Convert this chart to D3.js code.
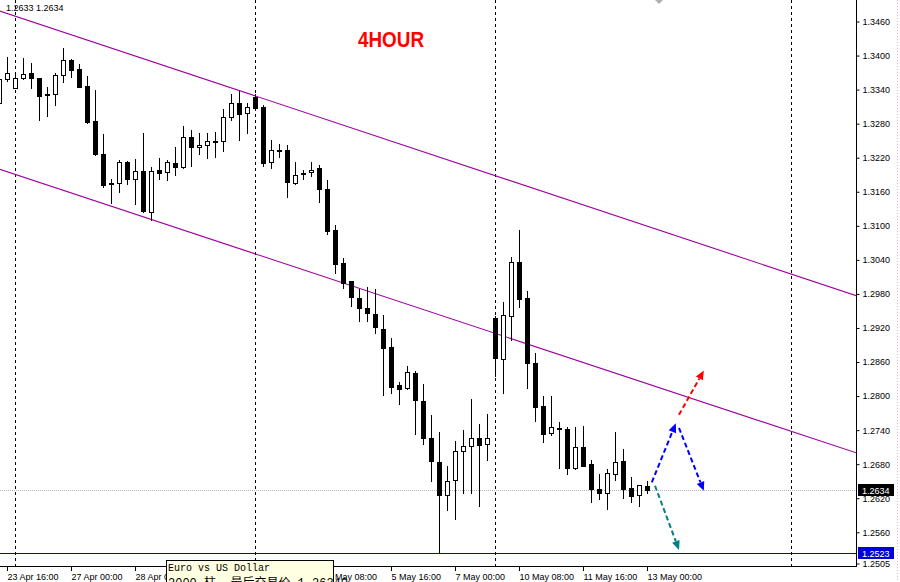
<!DOCTYPE html>
<html><head><meta charset="utf-8">
<script src="https://cdn.jsdelivr.net/npm/d3@7"></script>
<style>body{margin:0;background:#fff}svg{display:block}</style>
</head><body><svg id="c" width="900" height="582"></svg>
<script>
// ---------- data ----------
const firstBar = -1;
const opens  = [1.3316,1.3358,1.3343,1.3360,1.3369,1.3360,1.3333,1.3332,1.3366,1.3392,1.3376,1.3346,1.3284,1.3227,1.3173,1.3176,1.3212,1.3183,1.3196,1.3125,1.3198,1.3194,1.3210,1.3203,1.3257,1.3238,1.3242,1.3250,1.3250,1.3291,1.3317,1.3299,1.3327,1.3309,1.3213,1.3233,1.3233,1.3176,1.3192,1.3194,1.3201,1.3164,1.3093,1.3035,1.3002,1.2973,1.2956,1.2945,1.2919,1.2887,1.2819,1.2814,1.2841,1.2792,1.2726,1.2684,1.2626,1.2652,1.2704,1.2712,1.2727,1.2716,1.2938,1.2866,1.2941,1.3037,1.2972,1.2859,1.2783,1.2735,1.2744,1.2742,1.2673,1.2711,1.2680,1.2637,1.2630,1.2663,1.2686,1.2638,1.2626,1.2641];
const highs  = [1.3365,1.3398,1.3366,1.3395,1.3386,1.3361,1.3344,1.3369,1.3413,1.3394,1.3385,1.3364,1.3339,1.3261,1.3183,1.3216,1.3214,1.3217,1.3263,1.3204,1.3220,1.3216,1.3238,1.3276,1.3269,1.3263,1.3263,1.3265,1.3305,1.3332,1.3338,1.3316,1.3332,1.3312,1.3251,1.3245,1.3242,1.3212,1.3199,1.3213,1.3207,1.3180,1.3101,1.3044,1.3003,1.2989,1.2993,1.2989,1.2942,1.2903,1.2824,1.2853,1.2845,1.2822,1.2767,1.2737,1.2676,1.2720,1.2740,1.2795,1.2751,1.2769,1.2941,1.2965,1.3045,1.3092,1.2986,1.2876,1.2800,1.2800,1.2754,1.2746,1.2745,1.2748,1.2688,1.2662,1.2672,1.2736,1.2706,1.2657,1.2644,1.2650];
const lows   = [1.3310,1.3356,1.3342,1.3358,1.3343,1.3286,1.3293,1.3313,1.3354,1.3362,1.3344,1.3281,1.3224,1.3168,1.3140,1.3160,1.3173,1.3138,1.3124,1.3110,1.3183,1.3180,1.3190,1.3201,1.3205,1.3226,1.3220,1.3221,1.3232,1.3286,1.3251,1.3264,1.3304,1.3205,1.3202,1.3221,1.3151,1.3174,1.3182,1.3188,1.3142,1.3085,1.3017,1.2991,1.2959,1.2933,1.2932,1.2911,1.2802,1.2805,1.2786,1.2812,1.2733,1.2716,1.2650,1.2524,1.2600,1.2583,1.2630,1.2630,1.2606,1.2688,1.2836,1.2805,1.2898,1.2957,1.2815,1.2756,1.2719,1.2732,1.2674,1.2663,1.2672,1.2676,1.2613,1.2619,1.2601,1.2652,1.2621,1.2614,1.2607,1.2630];
const closes = [1.3359,1.3370,1.3360,1.3367,1.3360,1.3329,1.3331,1.3366,1.3392,1.3375,1.3345,1.3283,1.3226,1.3172,1.3176,1.3213,1.3183,1.3196,1.3126,1.3197,1.3193,1.3212,1.3204,1.3257,1.3238,1.3242,1.3249,1.3247,1.3291,1.3316,1.3297,1.3310,1.3307,1.3211,1.3233,1.3231,1.3177,1.3190,1.3193,1.3199,1.3164,1.3091,1.3033,1.2999,1.2974,1.2956,1.2946,1.2921,1.2884,1.2816,1.2812,1.2843,1.2793,1.2726,1.2685,1.2626,1.2650,1.2703,1.2712,1.2727,1.2714,1.2726,1.2867,1.2943,1.3037,1.2971,1.2859,1.2780,1.2733,1.2745,1.2742,1.2673,1.2710,1.2677,1.2636,1.2630,1.2665,1.2684,1.2637,1.2624,1.2643,1.2634];

const priceTicks = [1.3460,1.3400,1.3340,1.3280,1.3220,1.3160,1.3100,1.3040,1.2980,1.2920,1.2860,1.2800,1.2740,1.2680,1.2620,1.2560];
const bottomPrice = 1.2505;
const timeTickBars = [0,8,16,24,32,40,48,56,64,72,80];
// labels of bars 24 and 32 are covered by the tooltip in the reference
const timeTickLabels = ["23 Apr 16:00","27 Apr 00:00","28 Apr 08:00","","","4 May 08:00","5 May 16:00","7 May 00:00","10 May 08:00","11 May 16:00","13 May 00:00"];
const separatorBars = [1,31,61,98];
const channelUpperBars = [-1,107], channelUpperPrices = [1.3479,1.2973];
const channelLowerBars = [-1,107], channelLowerPrices = [1.3200,1.2696];
const lastPrice = 1.2634;
const supportLevel = 1.2523;
const headerText = "1.2633 1.2634";
const titleText = "4HOUR";
const arrowNames = ["blueUp","blueDown","redUp","tealDown"];
const arrowFromBar   = [80.6,84.0,84.0,81.0];
const arrowFromPrice = [1.2648,1.2744,1.2767,1.2642];
const arrowToBar     = [83.6,87.1,87.1,84.0];
const arrowToPrice   = [1.2752,1.2633,1.2845,1.2529];
const tooltipLines = ["Euro vs US Dollar","2000 柱, 最后交易价 1.26340"];

// ---------- drawing ----------
const svg = d3.select("#c");
const W = 900, H = 582, plotR = 856, plotB = 566;
const x = d3.scaleLinear().domain([0,80]).range([7,647]);
const y = d3.scaleLinear().domain([1.2505,1.3460]).range([563.5,21.5]);
const font = "'Liberation Sans', Arial, sans-serif";

svg.append("rect").attr("width",W).attr("height",H).attr("fill","#fff");
svg.append("defs").append("clipPath").attr("id","plot")
  .append("rect").attr("x",0).attr("y",0).attr("width",plotR).attr("height",plotB);
const g = svg.append("g").attr("clip-path","url(#plot)");

// week separators
g.selectAll("line.sep").data(separatorBars).join("line")
  .attr("x1",d=>Math.round(x(d))+0.5).attr("x2",d=>Math.round(x(d))+0.5)
  .attr("y1",0).attr("y2",plotB)
  .attr("stroke","#000").attr("stroke-width",1).attr("stroke-dasharray","3,3");

// last price dotted line
g.append("line").attr("x1",0).attr("x2",plotR)
  .attr("y1",Math.round(y(lastPrice))+0.5).attr("y2",Math.round(y(lastPrice))+0.5)
  .attr("stroke","#bcaebc").attr("stroke-width",1).attr("stroke-dasharray","1,1");

// support line
g.append("line").attr("x1",0).attr("x2",plotR)
  .attr("y1",Math.round(y(supportLevel))+0.5).attr("y2",Math.round(y(supportLevel))+0.5)
  .attr("stroke","#0000d8").attr("stroke-width",1.2);

// channel
const chan = [[channelUpperBars,channelUpperPrices],[channelLowerBars,channelLowerPrices]];
chan.forEach(([bs,ps])=>{
  g.append("line").attr("x1",x(bs[0])).attr("y1",y(ps[0]))
    .attr("x2",x(bs[1])).attr("y2",y(ps[1]))
    .attr("stroke","#a000a0").attr("stroke-width",1.1);
});

// candles
const bars = opens.map((o,i)=>({i:firstBar+i,o,h:highs[i],l:lows[i],c:closes[i]}));
const cg = g.append("g");
bars.forEach(b=>{
  const cx = Math.round(x(b.i));
  cg.append("line").attr("x1",cx+0.5).attr("x2",cx+0.5)
    .attr("y1",Math.round(y(b.h))).attr("y2",Math.round(y(b.l))+1)
    .attr("stroke","#000").attr("stroke-width",1);
  const top = Math.round(y(Math.max(b.o,b.c)));
  const bot = Math.round(y(Math.min(b.o,b.c)));
  const bull = b.c >= b.o;
  cg.append("rect").attr("x",cx-1.5).attr("y",top+0.5)
    .attr("width",4).attr("height",Math.max(bot-top,0))
    .attr("fill",bull?"#fff":"#000").attr("stroke","#000").attr("stroke-width",1);
});

// arrows
const arrowColor = {blueUp:"#0000ff",blueDown:"#0000ff",redUp:"#ff0000",tealDown:"#008080"};
arrowNames.forEach((n,k)=>{
  const x1=x(arrowFromBar[k]), y1=y(arrowFromPrice[k]);
  const x2=x(arrowToBar[k]), y2=y(arrowToPrice[k]);
  const a=Math.atan2(y2-y1,x2-x1), L=9, hw=4;
  const bx=x2-L*Math.cos(a), by=y2-L*Math.sin(a);
  g.append("line").attr("x1",x1).attr("y1",y1).attr("x2",bx).attr("y2",by)
    .attr("stroke",arrowColor[n]).attr("stroke-width",2).attr("stroke-dasharray","5,3");
  const px=-Math.sin(a), py=Math.cos(a);
  g.append("path").attr("d",`M${x2},${y2}L${bx+px*hw},${by+py*hw}L${bx-px*hw},${by-py*hw}Z`)
    .attr("fill",arrowColor[n]);
});

// small marker at top
svg.append("path").attr("d","M655,0L663,0L659,4Z").attr("fill","#b0b0b0");

// axes lines
svg.append("line").attr("x1",plotR+0.5).attr("x2",plotR+0.5).attr("y1",0).attr("y2",plotB+1)
  .attr("stroke","#000");
svg.append("line").attr("x1",0).attr("x2",plotR+1).attr("y1",plotB+0.5).attr("y2",plotB+0.5)
  .attr("stroke","#000");
// right dotted edge
svg.append("line").attr("x1",897.5).attr("x2",897.5).attr("y1",0).attr("y2",H)
  .attr("stroke","#f0b8b8").attr("stroke-dasharray","1,2");

// price axis
const yAxis = d3.axisRight(y).tickValues(priceTicks.concat([bottomPrice]))
  .tickFormat(d3.format(".4f")).tickSize(3).tickPadding(3);
const ya = svg.append("g").attr("transform",`translate(${plotR+0.5},0)`).call(yAxis);
ya.select(".domain").remove();
ya.selectAll("text").attr("font-family",font).attr("font-size",9).attr("fill","#000");
ya.selectAll("line").attr("stroke","#000");

// time axis
const tg = svg.append("g");
timeTickBars.forEach((b,k)=>{
  const tx = Math.round(x(b))+0.5;
  tg.append("line").attr("x1",tx).attr("x2",tx).attr("y1",plotB+1).attr("y2",plotB+5).attr("stroke","#000");
  if (timeTickLabels[k]) {
    tg.append("text").attr("x",tx).attr("y",580).attr("font-family",font).attr("font-size",9)
      .attr("fill","#000").text(timeTickLabels[k]);
  }
});

// price labels
function priceBox(p,bg){
  const cy = Math.round(y(p));
  svg.append("rect").attr("x",858).attr("y",cy-6).attr("width",36).attr("height",12).attr("fill",bg);
  svg.append("text").attr("x",862).attr("y",cy+3.5).attr("font-family",font).attr("font-size",9)
    .attr("fill","#fff").text(d3.format(".4f")(p));
}
priceBox(lastPrice,"#000");
priceBox(supportLevel,"#0000d8");

// header & title
svg.append("text").attr("x",6).attr("y",10.5).attr("font-family",font).attr("font-size",9)
  .attr("fill","#000").text(headerText);
svg.append("text").attr("x",358).attr("y",47).attr("font-family",font).attr("font-size",22)
  .attr("font-weight","bold").attr("fill","#ff0000")
  .attr("textLength",66).attr("lengthAdjust","spacingAndGlyphs").text(titleText);

// tooltip
svg.append("rect").attr("x",166.5).attr("y",560.5).attr("width",167).attr("height",30)
  .attr("fill","#ffffe1").attr("stroke","#000");
svg.append("text").attr("x",168).attr("y",571).attr("font-family","'Liberation Mono','DejaVu Sans Mono',monospace")
  .attr("font-size",10).attr("fill","#000").text(tooltipLines[0]);
svg.append("text").attr("x",168).attr("y",587).attr("font-family","'Liberation Mono','Noto Sans CJK SC',monospace")
  .attr("font-size",12).attr("fill","#000").text(tooltipLines[1]);
</script></body></html>
